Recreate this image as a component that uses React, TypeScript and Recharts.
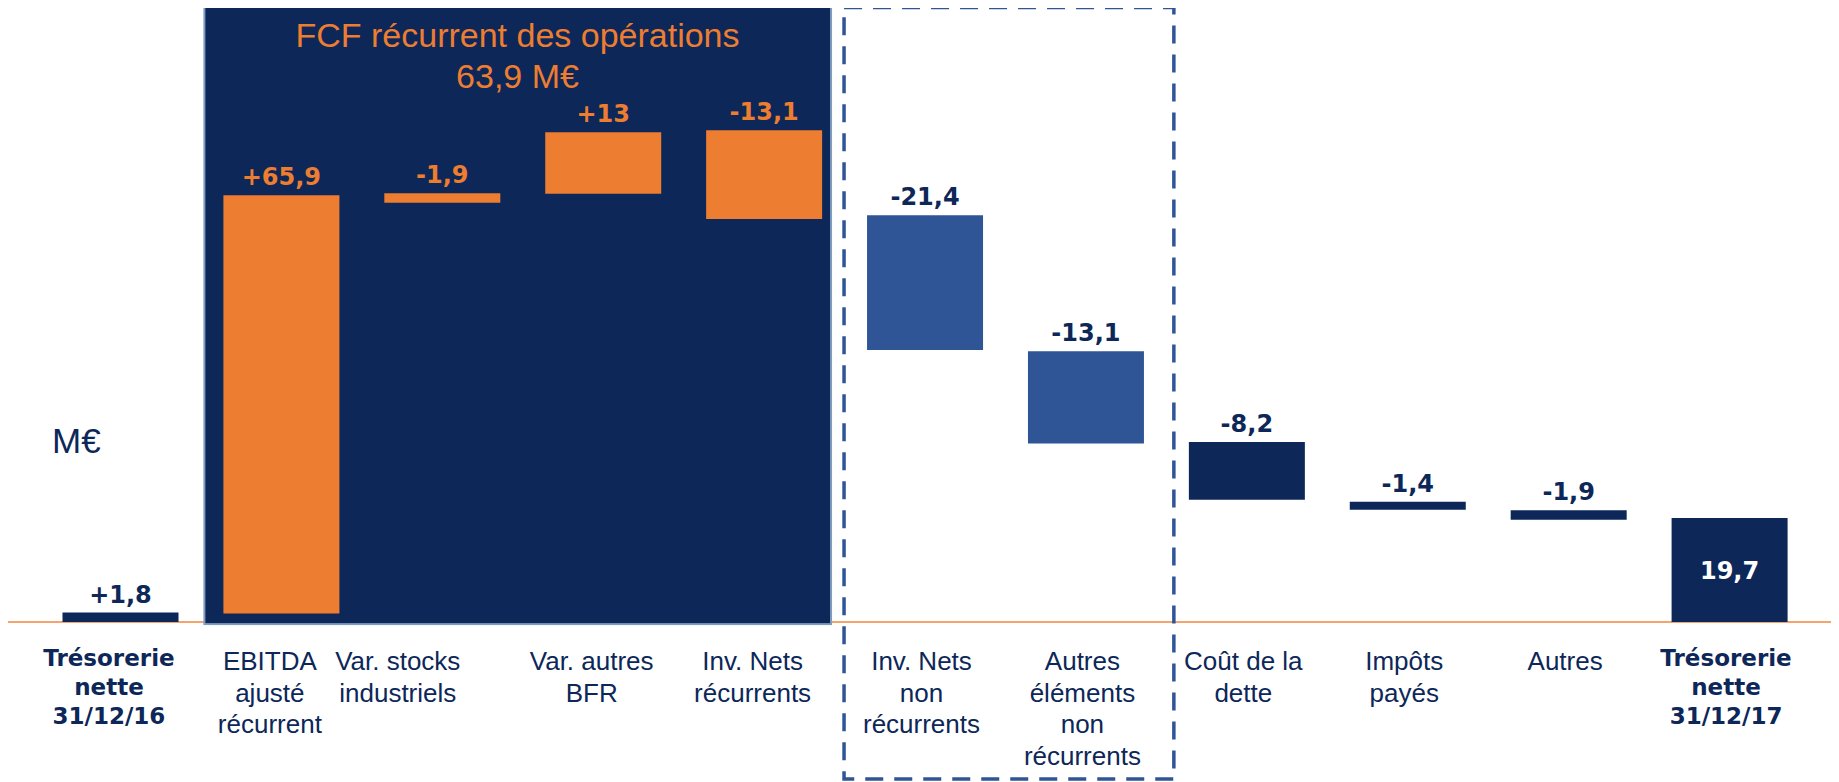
import React from "react";
import {
  BarChart,
  Bar,
  XAxis,
  YAxis,
  CartesianGrid,
  ReferenceArea,
  LabelList,
  Cell,
} from "recharts";

const categories = [
  "Trésorerie nette 31/12/16",
  "EBITDA ajusté récurrent",
  "Var. stocks industriels",
  "Var. autres BFR",
  "Inv. Nets récurrents",
  "Inv. Nets non récurrents",
  "Autres éléments non récurrents",
  "Coût de la dette",
  "Impôts payés",
  "Autres",
  "Trésorerie nette 31/12/17",
];

const tickLines = [
  ["Trésorerie", "nette", "31/12/16"],
  ["EBITDA", "ajusté", "récurrent"],
  ["Var. stocks", "industriels"],
  ["Var. autres", "BFR"],
  ["Inv. Nets", "récurrents"],
  ["Inv. Nets", "non", "récurrents"],
  ["Autres", "éléments", "non", "récurrents"],
  ["Coût de la", "dette"],
  ["Impôts", "payés"],
  ["Autres"],
  ["Trésorerie", "nette", "31/12/17"],
];

const valueLabels = ["+1,8", "+65,9", "-1,9", "+13", "-13,1", "-21,4", "-13,1", "-8,2", "-1,4", "-1,9", "19,7"];

// bar extents as drawn in the picture (M€)
const barLow = [0, 1.6, 79.9, 81.6, 76.8, 51.8, 34.0, 23.3, 21.4, 19.5, 0];
const barHigh = [1.8, 81.3, 81.7, 93.3, 93.7, 77.5, 51.6, 34.3, 22.9, 21.3, 19.8];

const groups = ["total", "fcf", "fcf", "fcf", "fcf", "nonrec", "nonrec", "other", "other", "other", "total"];

const NAVY = "#0c2758";
const ORANGE = "#ed7d31";
const BLUE = "#2f5597";

const barColor: Record<string, string> = {
  total: NAVY,
  fcf: ORANGE,
  nonrec: BLUE,
  other: NAVY,
};

const data = categories.map((name, i) => ({
  name,
  range: [barLow[i], barHigh[i]],
  group: groups[i],
}));

const ValueLabel = (props: any) => {
  const { x, y, width, height, index } = props;
  const top = Math.min(y, y + height);
  const cx = x + width / 2;
  const common = {
    x: cx,
    textAnchor: "middle" as const,
    fontFamily: "'DejaVu Sans', Verdana, sans-serif",
    fontWeight: 700,
    fontSize: 24,
  };
  if (index === categories.length - 1) {
    return (
      <text {...common} y={top + Math.abs(height) / 2 + 9} fill="#ffffff">
        {valueLabels[index]}
      </text>
    );
  }
  const fill = groups[index] === "fcf" ? ORANGE : NAVY;
  return (
    <text {...common} y={top - 10} fill={fill}>
      {valueLabels[index]}
    </text>
  );
};

const CategoryTick = (props: any) => {
  const { x, y, payload } = props;
  const i = categories.indexOf(payload.value);
  const lines = tickLines[i] || [];
  const bold = groups[i] === "total";
  const shift = i === 2 ? -45 : i < 5 ? -12 : -4;
  return (
    <text
      x={x + shift}
      y={y + (bold ? 44 : 48)}
      textAnchor="middle"
      fill={NAVY}
      fontFamily={bold ? "'DejaVu Sans', Verdana, sans-serif" : "'Liberation Sans', Arial, sans-serif"}
      fontWeight={bold ? 700 : 400}
      fontSize={bold ? 23 : 26}
    >
      {lines.map((line, k) => (
        <tspan key={k} x={x + shift} dy={k === 0 ? 0 : bold ? 29 : 31.5}>
          {line}
        </tspan>
      ))}
    </text>
  );
};

export default function App() {
  return (
    <div style={{ position: "relative", width: 1831, height: 774 }}>
      <BarChart
        width={1831}
        height={774}
        data={data}
        margin={{ top: 2, right: 0, bottom: 5, left: 0 }}
        barCategoryGap={0}
      >
        <CartesianGrid
          vertical={false}
          stroke="#f4a46c"
          strokeWidth={2}
          horizontalCoordinatesGenerator={({ offset }: any) => [offset.top + offset.height]}
        />
        <XAxis
          dataKey="name"
          interval={0}
          axisLine={false}
          tickLine={false}
          tickSize={0}
          tickMargin={0}
          height={155}
          padding={{ left: 32.5, right: 28.5 }}
          tick={<CategoryTick />}
        />
        <YAxis hide domain={[0, 116.6]} ticks={[0]} allowDataOverflow />
        <ReferenceArea
          x1={categories[1]}
          x2={categories[4]}
          y1={-0.4}
          y2={117.3}
          ifOverflow="visible"
          shape={(p: any) => (
            <rect
              x={p.x + 3}
              y={p.y}
              width={p.width - 17}
              height={p.height}
              fill={NAVY}
              stroke="#7f9cc0"
              strokeWidth={2}
            />
          )}
        />
        <ReferenceArea
          x1={categories[5]}
          x2={categories[6]}
          y1={-29.9}
          y2={117.1}
          ifOverflow="visible"
          shape={(p: any) => (
            <rect
              x={p.x - 1}
              y={p.y}
              width={p.width + 8}
              height={p.height}
              fill="none"
              stroke={BLUE}
              strokeWidth={3.5}
              strokeDasharray="18 11"
            />
          )}
        />
        <Bar dataKey="range" barSize={116} isAnimationActive={false}>
          {data.map((d, i) => (
            <Cell key={i} fill={barColor[d.group]} />
          ))}
          <LabelList dataKey="range" content={<ValueLabel />} />
        </Bar>
      </BarChart>
      <svg
        width={1831}
        height={774}
        style={{ position: "absolute", left: 0, top: 0, pointerEvents: "none" }}
      >
        <text
          x={509.5}
          y={38.7}
          textAnchor="middle"
          fill={ORANGE}
          fontFamily="'Liberation Sans', Arial, sans-serif"
          fontSize={34}
        >
          FCF récurrent des opérations
        </text>
        <text
          x={509.5}
          y={80}
          textAnchor="middle"
          fill={ORANGE}
          fontFamily="'Liberation Sans', Arial, sans-serif"
          fontSize={34}
        >
          63,9 M€
        </text>
        <text
          x={44}
          y={445}
          fill={NAVY}
          fontFamily="'Liberation Sans', Arial, sans-serif"
          fontSize={35}
        >
          M€
        </text>
      </svg>
    </div>
  );
}
